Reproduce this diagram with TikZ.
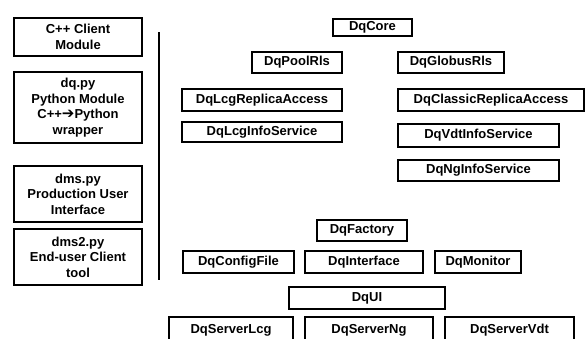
\documentclass[tikz,border=0pt]{standalone}
\usepackage{fontspec}
\setmainfont{Liberation Sans}
\newfontfamily\arrowfont{DejaVu Sans}
\tikzset{
	box/.style={draw, line width=2pt, inner sep=0pt, align=center,
		font=\bfseries\fontsize{13}{15.6}\selectfont},
}
\begin{document}
\begin{tikzpicture}[x=1pt,y=-1pt]
	\useasboundingbox (0,0) rectangle (586,338);
	\clip (0,0) rectangle (586,338);
	% client side
	\node [box,minimum width=128pt,minimum height=38pt] (cppclient) at (78,37) {C++ Client\\Module};
	\node [box,minimum width=128pt,minimum height=71pt] (dqpy) at (78,107.5) {dq.py\\Python Module\\C++{\arrowfont\bfseries\fontsize{15}{15.6}\selectfont ➔}Python\\wrapper};
	\node [box,minimum width=128pt,minimum height=56pt] (dmspy) at (78,194) {dms.py\\Production User\\Interface};
	\node [box,minimum width=128pt,minimum height=56pt] (dmstwopy) at (78,257) {dms2.py\\End-user Client\\tool};
	\node [coordinate] (sepTop) at (159,32) {};
	\node [coordinate] (sepBot) at (159,280) {};
	\draw [line width=2pt] (sepTop) -- (sepBot);
	% core side
	\node [box,minimum width=79pt,minimum height=17pt] (core) at (372.5,27.5) {DqCore};
	\node [box,minimum width=90pt,minimum height=21pt] (poolrls) at (297,62.5) {DqPoolRls};
	\node [box,minimum width=106pt,minimum height=21pt] (globusrls) at (451,62.5) {DqGlobusRls};
	\node [box,minimum width=160pt,minimum height=22pt] (lcgreplica) at (262,100) {DqLcgReplicaAccess};
	\node [box,minimum width=186pt,minimum height=22pt] (classicreplica) at (491,100) {DqClassicReplicaAccess};
	\node [box,minimum width=160pt,minimum height=20pt] (lcginfo) at (262,132) {DqLcgInfoService};
	\node [box,minimum width=161pt,minimum height=23pt] (vdtinfo) at (478.5,135.5) {DqVdtInfoService};
	\node [box,minimum width=161pt,minimum height=21pt] (nginfo) at (478.5,170.5) {DqNgInfoService};
	% factory and ui
	\node [box,minimum width=90pt,minimum height=21pt] (factory) at (362,230.5) {DqFactory};
	\node [box,minimum width=111pt,minimum height=22pt] (configfile) at (238.5,262) {DqConfigFile};
	\node [box,minimum width=118pt,minimum height=22pt] (interface) at (364,262) {DqInterface};
	\node [box,minimum width=86pt,minimum height=22pt] (monitor) at (478,262) {DqMonitor};
	\node [box,minimum width=156pt,minimum height=22pt] (ui) at (367,298) {DqUI};
	% servers (cut at bottom)
	\node [box,minimum width=124pt,minimum height=26pt] (serverlcg) at (231,330) {DqServerLcg};
	\node [box,minimum width=128pt,minimum height=26pt] (serverng) at (369,330) {DqServerNg};
	\node [box,minimum width=129pt,minimum height=26pt] (servervdt) at (509.5,330) {DqServerVdt};
\end{tikzpicture}
\end{document}
